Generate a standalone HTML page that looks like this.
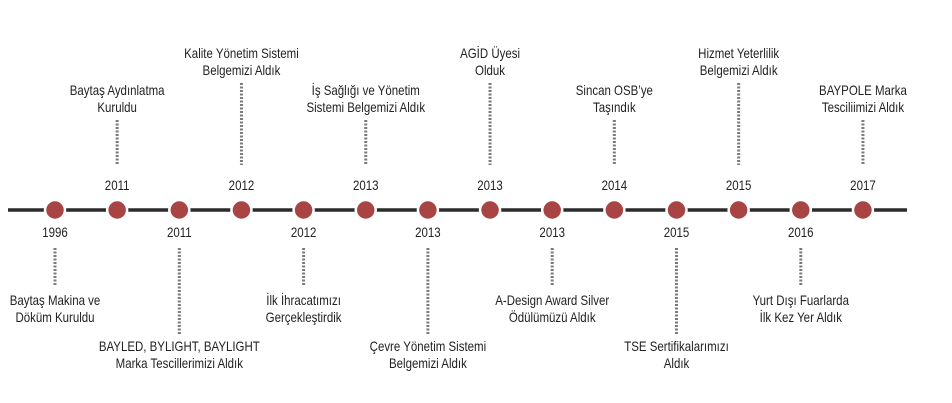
<!DOCTYPE html>
<html><head><meta charset="utf-8"><style>
html,body{margin:0;padding:0;background:#fff;width:952px;height:403px;overflow:hidden}
svg text{font-family:"Liberation Sans Narrow","Liberation Sans",sans-serif;font-size:14px;fill:#222}
</style></head><body>
<svg id="tl" width="952" height="403" viewBox="0 0 952 403">
<line x1="8" y1="210" x2="907" y2="210" stroke="#2b2b2b" stroke-width="3.5"/>
</svg>
<script>
const years = ["1996","2011","2011","2012","2012","2013","2013","2013","2013","2014","2015","2015","2016","2017"];
const labels = [
 ["Baytaş Makina ve","Döküm Kuruldu"],
 ["Baytaş Aydınlatma","Kuruldu"],
 ["BAYLED, BYLIGHT, BAYLIGHT","Marka Tescillerimizi Aldık"],
 ["Kalite Yönetim Sistemi","Belgemizi Aldık"],
 ["İlk İhracatımızı","Gerçekleştirdik"],
 ["İş Sağlığı ve Yönetim","Sistemi Belgemizi Aldık"],
 ["Çevre Yönetim Sistemi","Belgemizi Aldık"],
 ["AGİD Üyesi","Olduk"],
 ["A-Design Award Silver","Ödülümüzü Aldık"],
 ["Sincan OSB’ye","Taşındık"],
 ["TSE Sertifikalarımızı","Aldık"],
 ["Hizmet Yeterlilik","Belgemizi Aldık"],
 ["Yurt Dışı Fuarlarda","İlk Kez Yer Aldık"],
 ["BAYPOLE Marka","Tesciliimizi Aldık"]
];
const svg=document.getElementById('tl');
const NS='http://www.w3.org/2000/svg';
const x0=55, step=62.15;
function xAt(i){return x0+i*step;}
function mk(tag,attrs){const e=document.createElementNS(NS,tag);for(const k in attrs)e.setAttribute(k,attrs[k]);svg.appendChild(e);return e;}
function txt(x,y,s,name){
  const t=mk('text',{x:0,y:0,'text-anchor':'middle',transform:`translate(${x},${y}) scale(0.82,1)`});
  
  
  t.textContent=s;return t;
}
years.forEach((y,i)=>{
  const x=xAt(i);
  const above=i%2===1;
  const k=Math.floor(i/2);
  const long=k%2===1;
  let ln;
  if(above){
    ln=mk('line',{x1:x,x2:x,y1:long?83:120,y2:165,stroke:'#7a7a7a','stroke-width':3,'stroke-dasharray':'2 1.5'});
    txt(x,190,y,'event-year');
    const b=long?58:95;
    txt(x,b,labels[i][0],'event-label');
    txt(x,b+17,labels[i][1],'event-label');
  } else {
    ln=mk('line',{x1:x,x2:x,y1:248,y2:long?335:285,stroke:'#7a7a7a','stroke-width':3,'stroke-dasharray':'2 1.5'});
    txt(x,237,y,'event-year');
    const b=long?351:305;
    txt(x,b,labels[i][0],'event-label');
    txt(x,b+17,labels[i][1],'event-label');
  }
  
  
  const c=mk('circle',{cx:x,cy:210,r:10,fill:'#a94444',stroke:'#ffffff','stroke-width':2.5});
  
  
});
</script>
</body></html>
